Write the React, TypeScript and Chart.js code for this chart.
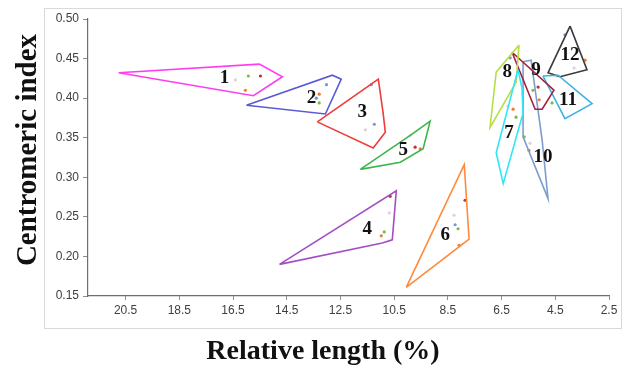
import React, { useEffect, useRef } from 'react';
import { Chart, registerables } from 'chart.js';

Chart.register(...registerables);

// ---- data ----
const GROUP_LABELS = ['1', '2', '3', '4', '5', '6', '7', '8', '9', '10', '11', '12'];

const HULL_X: number[][] = [
  [20.76, 15.52, 14.66, 15.74],
  [16.0, 12.8, 12.47, 13.06],
  [13.36, 11.09, 10.91, 10.83, 11.28],
  [14.77, 10.42, 10.57, 10.94],
  [11.76, 9.9, 9.16, 9.42, 10.27],
  [10.05, 7.89, 7.71],
  [5.89, 5.74, 5.7, 6.44, 6.7],
  [5.85, 5.96, 6.93, 6.7],
  [6.11, 4.55, 4.99, 5.25],
  [5.7, 5.4, 4.99, 4.77, 5.7],
  [4.96, 4.4, 3.13, 4.14],
  [3.95, 3.32, 4.32, 4.77],
];
const HULL_Y: number[][] = [
  [0.432, 0.443, 0.427, 0.403],
  [0.391, 0.429, 0.424, 0.38],
  [0.37, 0.424, 0.381, 0.357, 0.337],
  [0.19, 0.283, 0.221, 0.217],
  [0.31, 0.353, 0.371, 0.336, 0.319],
  [0.161, 0.316, 0.222],
  [0.436, 0.413, 0.381, 0.292, 0.331],
  [0.467, 0.42, 0.363, 0.433],
  [0.458, 0.41, 0.386, 0.386],
  [0.446, 0.448, 0.347, 0.273, 0.351],
  [0.428, 0.429, 0.393, 0.374],
  [0.491, 0.436, 0.427, 0.432],
];

const LABEL_X = [16.82, 13.58, 11.69, 11.5, 10.16, 8.6, 6.22, 6.29, 5.22, 4.96, 4.03, 3.95];
const LABEL_Y = [0.425, 0.4, 0.383, 0.235, 0.334, 0.227, 0.356, 0.433, 0.436, 0.326, 0.398, 0.455];

const DOT_X: number[][] = [
  [15.48, 16.04, 16.41, 15.93],
  [13.02, 13.29, 13.4, 13.29],
  [11.35, 11.57, 11.24],
  [10.65, 10.68, 10.87, 10.98],
  [9.72, 9.53, 9.9],
  [7.86, 8.23, 8.12, 8.27, 8.08],
  [6.07, 5.96, 6.26],
  [6.18],
  [5.14, 5.1, 5.33],
  [5.66, 5.48, 5.44],
  [4.62, 4.43],
  [4.14, 3.39, 3.8],
];
const DOT_Y: number[][] = [
  [0.428, 0.41, 0.423, 0.428],
  [0.417, 0.405, 0.4, 0.394],
  [0.417, 0.36, 0.367],
  [0.276, 0.255, 0.231, 0.226],
  [0.338, 0.336, 0.353],
  [0.271, 0.24, 0.235, 0.252, 0.214],
  [0.386, 0.376, 0.39],
  [0.451],
  [0.414, 0.398, 0.41],
  [0.351, 0.334, 0.343],
  [0.394, 0.428],
  [0.48, 0.448, 0.438],
];
// index into DOT_PALETTE
const DOT_KIND: number[][] = [
  [0, 1, 4, 2],
  [3, 1, 3, 2],
  [3, 4, 3],
  [0, 4, 2, 1],
  [0, 1, 4],
  [0, 3, 2, 4, 1],
  [1, 2, 4],
  [3],
  [0, 1, 2],
  [2, 1, 4],
  [2, 4],
  [3, 1, 4],
];

const X_TICKS = [20.5, 18.5, 16.5, 14.5, 12.5, 10.5, 8.5, 6.5, 4.5, 2.5];
const Y_TICKS = [0.15, 0.2, 0.25, 0.3, 0.35, 0.4, 0.45, 0.5];
const X_MIN = 2.5;
const X_MAX = 21.9;
const Y_MIN = 0.15;
const Y_MAX = 0.5;

const X_TITLE = 'Relative length (%)';
const Y_TITLE = 'Centromeric index';

// ---- styles ----
const HULL_COLORS = [
  '#ff3cf0',
  '#5a5ad8',
  '#ee3b3b',
  '#a24fc2',
  '#3cb54a',
  '#ff8a3c',
  '#2ee6f5',
  '#b5df45',
  '#a3223d',
  '#7f9dcc',
  '#3db3e6',
  '#3a3a3a',
];
const DOT_PALETTE = ['#b8323a', '#f07b2e', '#7cb84a', '#7a94d4', '#e3cfd3'];

const overlayPlugin = {
  id: 'overlay',
  beforeDraw(chart: any) {
    const ctx = chart.ctx;
    ctx.save();
    ctx.fillStyle = '#ffffff';
    ctx.fillRect(0, 0, chart.width, chart.height);
    ctx.strokeStyle = '#d9d9d9';
    ctx.lineWidth = 1;
    ctx.strokeRect(44.5, 8.5, 577, 320);
    ctx.restore();
  },
  afterDraw(chart: any) {
    const ctx = chart.ctx;
    const xs = chart.scales.x;
    const ys = chart.scales.y;
    ctx.save();
    ctx.fillStyle = '#111111';
    ctx.textAlign = 'center';
    ctx.textBaseline = 'middle';
    ctx.font = "bold 19px 'Liberation Serif', 'DejaVu Serif', serif";
    GROUP_LABELS.forEach((lab, i) => {
      ctx.fillText(lab, xs.getPixelForValue(LABEL_X[i]), ys.getPixelForValue(LABEL_Y[i]));
    });
    ctx.font = "bold 28px 'Liberation Serif', 'DejaVu Serif', serif";
    ctx.fillText(X_TITLE, 323, 352);
    ctx.font = "bold 29px 'Liberation Serif', 'DejaVu Serif', serif";
    ctx.translate(29, 150);
    ctx.rotate(-Math.PI / 2);
    ctx.fillText(Y_TITLE, 0, 0);
    ctx.restore();
  },
};

export default function App() {
  const ref = useRef<HTMLCanvasElement | null>(null);

  useEffect(() => {
    if (!ref.current) return;
    const datasets: any[] = [];
    HULL_X.forEach((xs, g) => {
      const pts = xs.map((x, k) => ({ x, y: HULL_Y[g][k] }));
      pts.push({ x: xs[0], y: HULL_Y[g][0] });
      datasets.push({
        label: 'hull ' + GROUP_LABELS[g],
        data: pts,
        showLine: true,
        borderColor: HULL_COLORS[g],
        backgroundColor: HULL_COLORS[g],
        borderWidth: 1.6,
        pointRadius: 0,
        fill: false,
        tension: 0,
        clip: false,
      });
    });
    DOT_X.forEach((xs, g) => {
      datasets.push({
        label: 'dots ' + GROUP_LABELS[g],
        data: xs.map((x, k) => ({ x, y: DOT_Y[g][k] })),
        showLine: false,
        pointRadius: 1.6,
        pointBorderWidth: 0,
        pointBackgroundColor: DOT_KIND[g].map((k) => DOT_PALETTE[k]),
        clip: false,
      });
    });

    const tickFont = { family: "'Liberation Sans', Arial, sans-serif", size: 12 };
    const chart = new Chart(ref.current, {
      type: 'scatter',
      data: { datasets },
      options: {
        animation: false,
        responsive: false,
        maintainAspectRatio: false,
        events: [],
        layout: { padding: { left: 0, top: 19, right: 16, bottom: 39 } },
        plugins: { legend: { display: false }, tooltip: { enabled: false } },
        scales: {
          x: {
            type: 'linear',
            reverse: true,
            min: X_MIN,
            max: X_MAX,
            afterBuildTicks: (s: any) => {
              s.ticks = X_TICKS.map((v) => ({ value: v }));
            },
            afterFit: (s: any) => {
              s.height = 30;
            },
            ticks: {
              autoSkip: false,
              maxRotation: 0,
              color: '#404040',
              font: tickFont,
              padding: 3,
              callback: (v: any) => Number(v).toFixed(1),
            },
            grid: { drawOnChartArea: false, drawTicks: true, tickLength: 4, color: '#8c8c8c' },
            border: { display: true, color: '#6e6e6e', width: 1.2 },
          },
          y: {
            type: 'linear',
            min: Y_MIN,
            max: Y_MAX,
            afterBuildTicks: (s: any) => {
              s.ticks = Y_TICKS.map((v) => ({ value: v }));
            },
            afterFit: (s: any) => {
              s.width = 88;
            },
            ticks: {
              color: '#404040',
              font: tickFont,
              padding: 4,
              callback: (v: any) => Number(v).toFixed(2),
            },
            grid: { drawOnChartArea: false, drawTicks: true, tickLength: 5, color: '#8c8c8c' },
            border: { display: true, color: '#6e6e6e', width: 1.2 },
          },
        },
      },
      plugins: [overlayPlugin],
    });
    return () => chart.destroy();
  }, []);

  return (
    <div style={{ position: 'absolute', left: 0, top: 0, width: 625, height: 365 }}>
      <canvas ref={ref} width={625} height={365} style={{ width: 625, height: 365 }} />
    </div>
  );
}
